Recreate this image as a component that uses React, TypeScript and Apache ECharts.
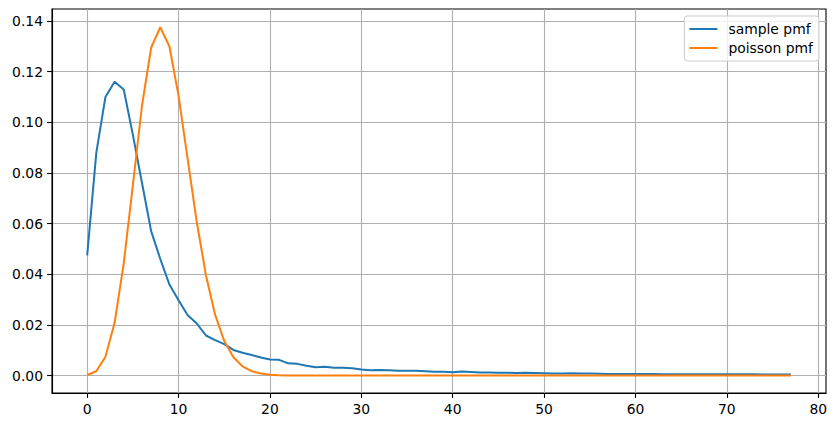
import React, { useEffect, useRef } from "react";
import * as echarts from "echarts";

const ks: number[] = Array.from({ length: 78 }, (_, i) => i);

const samplePmf: number[] = [
  0.0474, 0.088, 0.110, 0.116, 0.1129, 0.095, 0.076, 0.057, 0.046, 0.0359,
  0.0297, 0.0238, 0.0205, 0.0158, 0.014, 0.0124, 0.0101, 0.009, 0.0081, 0.0071,
  0.0063, 0.0062, 0.0048, 0.0046, 0.0039, 0.0033, 0.0035, 0.0031, 0.0031, 0.0029,
  0.0024, 0.0021, 0.0022, 0.0021, 0.0019, 0.0019, 0.0019, 0.0017, 0.0015, 0.0015,
  0.0013, 0.0016, 0.0014, 0.0012, 0.0012, 0.0011, 0.0011, 0.001, 0.0011, 0.001,
  0.0009, 0.0008, 0.0008, 0.0009, 0.0008, 0.0008, 0.0007, 0.0006, 0.0006, 0.0006,
  0.0006, 0.0006, 0.0006, 0.0005, 0.0005, 0.0005, 0.0005, 0.0005, 0.0005, 0.0005,
  0.0005, 0.0005, 0.0005, 0.0005, 0.0004, 0.0004, 0.0004, 0.0004,
];

const poissonPmf: number[] = [
  0.0002, 0.0017, 0.0074, 0.0208, 0.0443, 0.0752, 0.1066, 0.1294, 0.1375, 0.1299,
  0.1104, 0.0853, 0.0604, 0.0395, 0.024, 0.0136, 0.0072, 0.0036, 0.0017, 0.0008,
  0.0003, 0.0001, 0.00005, 0.00002, 0.00001, 0, 0, 0, 0, 0,
  0, 0, 0, 0, 0, 0, 0, 0, 0, 0,
  0, 0, 0, 0, 0, 0, 0, 0, 0, 0,
  0, 0, 0, 0, 0, 0, 0, 0, 0, 0,
  0, 0, 0, 0, 0, 0, 0, 0, 0, 0,
  0, 0, 0, 0, 0, 0, 0, 0,
];

const xTicks: number[] = [0, 10, 20, 30, 40, 50, 60, 70, 80];
const yTicks: number[] = [0, 0.02, 0.04, 0.06, 0.08, 0.1, 0.12, 0.14];

const FONT = "DejaVu Sans";

export default function App() {
  const ref = useRef<HTMLDivElement>(null);
  useEffect(() => {
    if (!ref.current) return;
    const chart = echarts.init(ref.current, undefined, { renderer: "svg" });
    const gridLine = { show: true, lineStyle: { color: "#b0b0b0", width: 1.1 } };
    const tick = { show: true, length: 4.9, inside: false, lineStyle: { color: "#000", width: 1.1 } };
    const axisLine = { show: true, onZero: false, lineStyle: { color: "#000", width: 1.1 } };
    chart.setOption({
      animation: false,
      textStyle: { fontFamily: FONT },
      grid: {
        left: 52,
        right: 10,
        top: 9,
        bottom: 35,
        show: true,
        borderColor: "#000",
        borderWidth: 1.1,
        backgroundColor: "transparent",
        containLabel: false,
      },
      legend: {
        orient: "vertical",
        right: 17,
        top: 16,
        icon: "rect",
        itemWidth: 28,
        itemHeight: 2,
        itemGap: 5,
        padding: [6, 6, 6, 5],
        backgroundColor: "rgba(255,255,255,0.8)",
        borderColor: "#cccccc",
        borderWidth: 1,
        borderRadius: 3,
        textStyle: { fontFamily: FONT, fontSize: 13.9, color: "#000", lineHeight: 14, padding: [0, 0, 0, 6] },
        data: ["sample pmf", "poisson pmf"],
      },
      xAxis: {
        type: "value",
        position: "bottom",
        min: -3.85,
        max: 80.85,
        axisLine,
        axisTick: { ...tick, customValues: xTicks },
        axisLabel: {
          customValues: xTicks,
          fontFamily: FONT,
          fontSize: 13.9,
          color: "#000",
          margin: 9,
        },
        splitLine: gridLine,
      },
      yAxis: {
        type: "value",
        position: "left",
        min: -0.0069,
        max: 0.1447,
        axisLine,
        axisTick: { ...tick, customValues: yTicks },
        axisLabel: {
          customValues: yTicks,
          fontFamily: FONT,
          fontSize: 13.9,
          color: "#000",
          margin: 9,
          formatter: (v: number) => v.toFixed(2),
        },
        splitLine: gridLine,
      },
      series: [
        {
          name: "sample pmf",
          type: "line",
          data: ks.map((k, i) => [k, samplePmf[i]]),
          symbol: "none",
          color: "#1f77b4",
          lineStyle: { width: 2, color: "#1f77b4" },
          z: 2,
        },
        {
          name: "poisson pmf",
          type: "line",
          data: ks.map((k, i) => [k, poissonPmf[i]]),
          symbol: "none",
          color: "#ff7f0e",
          lineStyle: { width: 2, color: "#ff7f0e" },
          z: 3,
        },
      ],
    });
    return () => chart.dispose();
  }, []);
  return <div ref={ref} style={{ width: 836, height: 428, position: "absolute", left: 0, top: 0 }} />;
}
